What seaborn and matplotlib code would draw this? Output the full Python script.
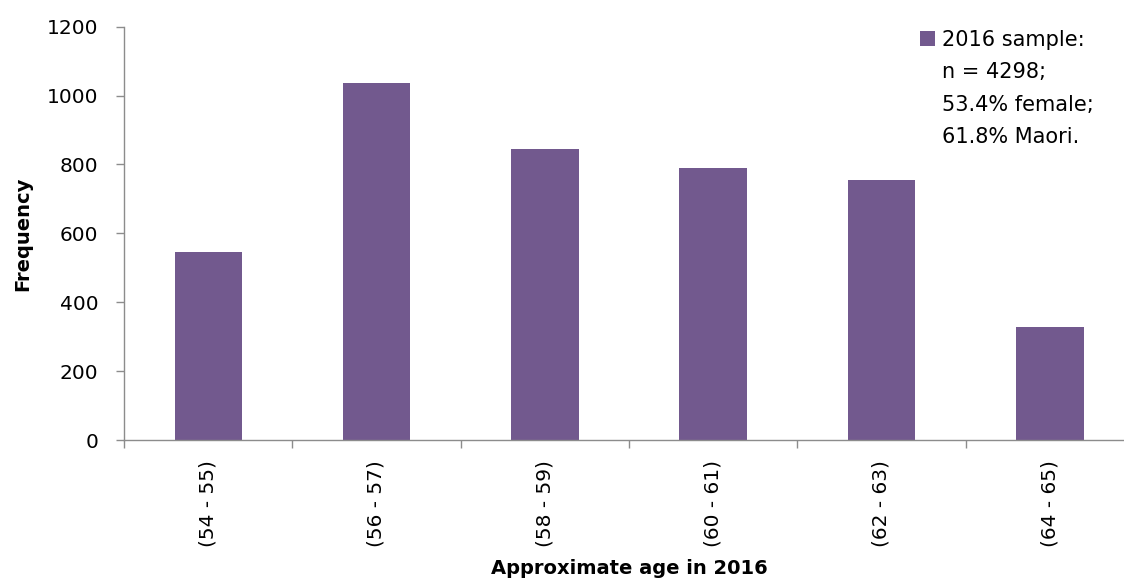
import numpy as np
import pandas as pd
import matplotlib
matplotlib.use("Agg")
import matplotlib.pyplot as plt
import seaborn as sns
from matplotlib.patches import Patch

# ---- data ----
age_groups = ["(54 - 55)", "(56 - 57)", "(58 - 59)", "(60 - 61)", "(62 - 63)", "(64 - 65)"]
frequency = [546, 1037, 845, 789, 754, 327]
y_ticks = [0, 200, 400, 600, 800, 1000, 1200]
legend_lines = ["2016 sample:", "n = 4298;", "53.4% female;", "61.8% Maori."]
x_label = "Approximate age in 2016"
y_label = "Frequency"

BAR_COLOR = "#72598e"
AXIS_COLOR = "#8c8c8c"

sns.set_theme(style="ticks")
plt.rcParams["font.family"] = ["DejaVu Sans"]
plt.rcParams["text.color"] = "black"
plt.rcParams["axes.labelcolor"] = "black"
plt.rcParams["xtick.color"] = AXIS_COLOR
plt.rcParams["ytick.color"] = AXIS_COLOR
plt.rcParams["xtick.labelcolor"] = "black"
plt.rcParams["ytick.labelcolor"] = "black"

W, H = 1124, 578
fig = plt.figure(figsize=(W / 100, H / 100), dpi=100)
left_px, right_px, bottom_px, top_px = 124, 1134, 440, 26.7
ax = fig.add_axes([left_px / W, 1 - bottom_px / H,
                   (right_px - left_px) / W, (bottom_px - top_px) / H])

df = pd.DataFrame({"age": age_groups, "freq": frequency})
sns.barplot(data=df, x="age", y="freq", color=BAR_COLOR, width=0.4,
            saturation=1, edgecolor="none", ax=ax)

ax.set_xlim(-0.5, len(age_groups) - 0.5)
ax.set_ylim(0, 1200)
ax.set_yticks(y_ticks)
ax.set_yticklabels([str(v) for v in y_ticks], fontsize=14.5, color="black")

ax.set_xticks(range(len(age_groups)))
ax.set_xticklabels(age_groups, rotation=90, fontsize=14.5, color="black")
ax.set_xticks(np.arange(-0.5, len(age_groups), 1.0), minor=True)
ax.tick_params(axis="x", which="major", length=0, pad=14.4)
ax.tick_params(axis="x", which="minor", length=5.8, width=1.0, direction="out", color=AXIS_COLOR)
ax.tick_params(axis="y", which="major", length=5.8, width=1.0, direction="out",
               color=AXIS_COLOR, pad=12.7)

for s in ["top", "right"]:
    ax.spines[s].set_visible(False)
for s in ["left", "bottom"]:
    ax.spines[s].set_color(AXIS_COLOR)
    ax.spines[s].set_linewidth(1.0)

ax.grid(False)

ax.set_xlabel(x_label, fontsize=14, fontweight="bold", color="black")
ax.xaxis.set_label_coords(0.5, -0.288)
ax.xaxis.label.set_va("top")

ax.set_ylabel(y_label, fontsize=14, fontweight="bold", color="black")
ax.yaxis.label.set_va("center")
ax.yaxis.set_label_coords((22.5 - left_px) / (right_px - left_px), 0.5)

leg = ax.legend(handles=[Patch(facecolor=BAR_COLOR, edgecolor="none", label=legend_lines[0])],
                loc="upper left", bbox_to_anchor=(920 / W, 1 - 30 / H),
                bbox_transform=fig.transFigure, frameon=False, fontsize=15,
                borderpad=0, borderaxespad=0, handlelength=0.72, handleheight=0.72,
                handletextpad=0.34, labelcolor="black")

for i, line in enumerate(legend_lines[1:]):
    fig.text(942 / W, 1 - (46 + 32.3 * (i + 1)) / H, line, fontsize=15,
             va="baseline", color="black")

fig.savefig("out.png", dpi=100)
